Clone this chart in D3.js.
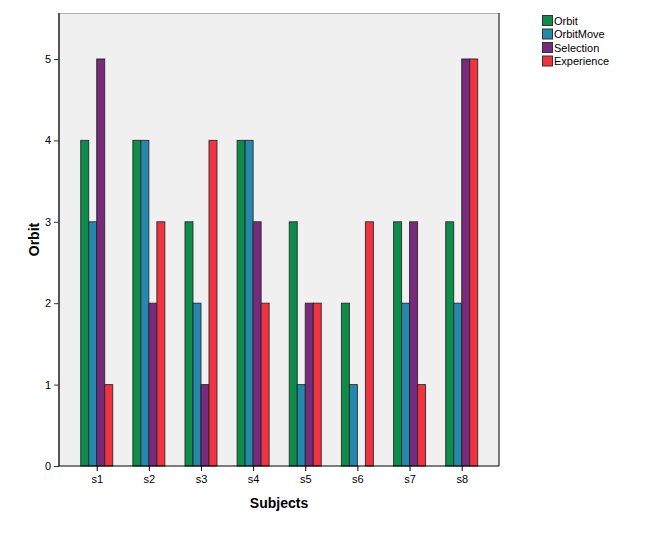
<!DOCTYPE html>
<html><head><meta charset="utf-8">
<script src="https://cdn.jsdelivr.net/npm/d3@7"></script>
<style>body{margin:0;background:#fff;} svg{display:block;font-family:"Liberation Sans",Arial,sans-serif;}</style>
</head><body>
<svg id="chart" width="668" height="535"></svg>
<script>
const categories = ["s1","s2","s3","s4","s5","s6","s7","s8"];
const seriesNames = ["Orbit","OrbitMove","Selection","Experience"];
const orbit      = [4,4,3,4,3,2,3,3];
const orbitMove  = [3,4,2,4,1,1,2,2];
const selection  = [5,2,1,3,2,0,3,5];
const experience = [1,3,4,2,2,3,1,5];
const colors = ["#0e8c4a","#2489ad","#782a7c","#ef3340"];
const yTicks = [0,1,2,3,4,5];

const series = [orbit, orbitMove, selection, experience];
const svg = d3.select("#chart");
const L = 59, R = 499, T = 13, B = 466;

const x = d3.scalePoint().domain(categories).range([96.7, 461.7]);
const y = d3.scaleLinear().domain([0, 5.565]).range([B, T]);
const bw = 8;
const xOff = d3.scaleBand().domain(seriesNames).range([-16, 16]);

// plot background
svg.append("rect").attr("x", L).attr("y", T).attr("width", R - L).attr("height", B - T)
  .attr("fill", "#f0f0f0");

// bars
seriesNames.forEach((name, si) => {
  svg.append("g").selectAll("rect").data(categories).join("rect")
    .attr("x", d => x(d) + xOff(name))
    .attr("y", (d, i) => y(series[si][i]))
    .attr("width", bw)
    .attr("height", (d, i) => B - y(series[si][i]))
    .attr("fill", colors[si])
    .attr("stroke", "#222")
    .attr("stroke-opacity", 0.85)
    .attr("stroke-width", 1)
    .style("display", (d, i) => series[si][i] === 0 ? "none" : null);
});

// frame
svg.append("line").attr("x1", L).attr("x2", R).attr("y1", T + 0.5).attr("y2", T + 0.5).attr("stroke", "#b0b0b0");
svg.append("line").attr("x1", R).attr("x2", R).attr("y1", T).attr("y2", B).attr("stroke", "#000");

// y axis
const yAxis = svg.append("g").attr("transform", `translate(${L},0)`)
  .call(d3.axisLeft(y).tickValues(yTicks).tickSize(5).tickPadding(3).tickFormat(d3.format("d")));
yAxis.select(".domain").attr("stroke", "#555").attr("stroke-width", 2).attr("d", `M0,${T}V${B}`);
yAxis.selectAll(".tick line").attr("stroke", "#333");
yAxis.selectAll("text").attr("font-size", 11).attr("fill", "#000").attr("font-family", "Liberation Sans, Arial, sans-serif");

// x axis
const xAxis = svg.append("g").attr("transform", `translate(0,${B})`)
  .call(d3.axisBottom(x).tickSize(5).tickPadding(4));
xAxis.select(".domain").attr("stroke", "#000").attr("d", `M${L},0H${R}`);
xAxis.selectAll(".tick line").attr("stroke", "#000");
xAxis.selectAll("text").attr("font-size", 11).attr("fill", "#000").attr("font-family", "Liberation Sans, Arial, sans-serif");

// axis titles
svg.append("text").attr("x", (L + R) / 2).attr("y", 508).attr("text-anchor", "middle")
  .attr("font-size", 14).attr("font-weight", "bold").text("Subjects");
svg.append("text").attr("transform", `translate(39,${(T + B) / 2}) rotate(-90)`)
  .attr("text-anchor", "middle").attr("font-size", 14).attr("font-weight", "bold").text("Orbit");

// legend
const lg = svg.append("g").attr("transform", "translate(542,15)");
seriesNames.forEach((name, i) => {
  const g = lg.append("g").attr("transform", `translate(0,${i * 13.5})`);
  g.append("rect").attr("x", 0.5).attr("y", 0.5).attr("width", 10).attr("height", 10)
    .attr("fill", colors[i]).attr("stroke", "#333");
  g.append("text").attr("x", 12).attr("y", 9.5).attr("font-size", 11).attr("fill", "#000").text(name);
});
</script>
</body></html>
